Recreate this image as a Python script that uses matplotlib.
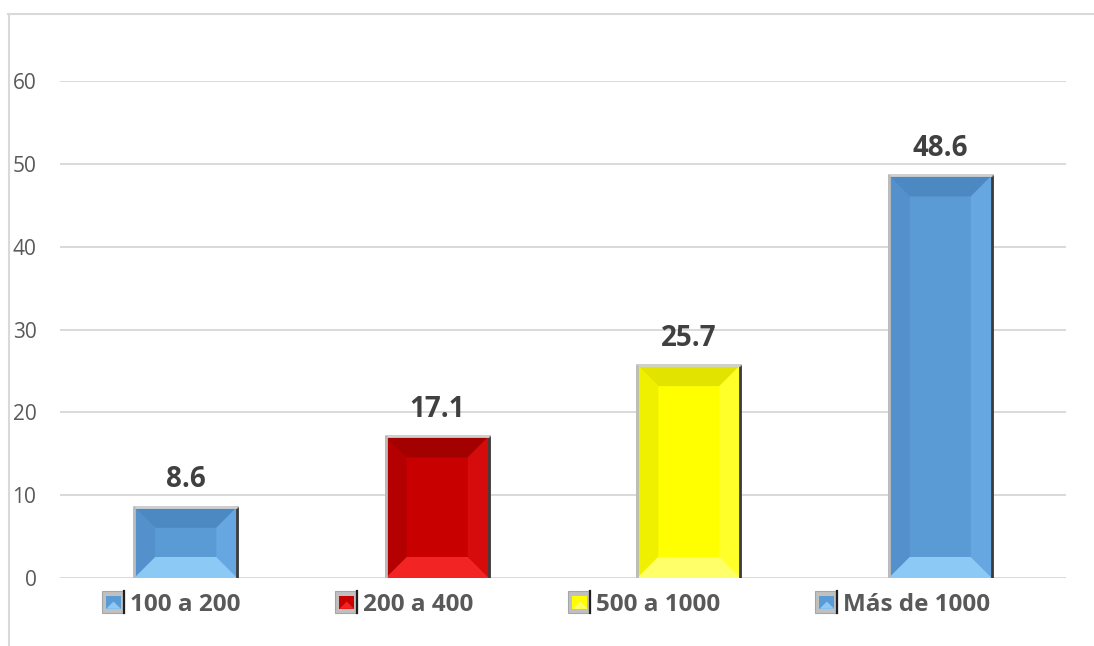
import matplotlib
matplotlib.use("Agg")
import matplotlib.pyplot as plt
from matplotlib.patches import Polygon, Rectangle
from matplotlib.legend_handler import HandlerBase
from matplotlib.lines import Line2D

# --- data -----------------------------------------------------------------
categories = ["100 a 200", "200 a 400", "500 a 1000", "Más de 1000"]
values = [8.6, 17.1, 25.7, 48.6]
y_ticks = [0, 10, 20, 30, 40, 50, 60]

# bevel palettes: (face, top, left, right, bottom)
palettes = [
    ("#5B9BD5", "#4C88C2", "#5390CC", "#66A7E1", "#8CCAF5"),
    ("#C80000", "#A30000", "#B40000", "#D60C0C", "#F22424"),
    ("#FFFF00", "#E3E300", "#EFEF00", "#FFFF2A", "#FFFF6A"),
    ("#5B9BD5", "#4C88C2", "#5390CC", "#66A7E1", "#8CCAF5"),
]

FONT = "Open Sans"
W, H = 1094, 646
fig = plt.figure(figsize=(W / 100, H / 100), dpi=100)
fig.patch.set_facecolor("white")

# chart-area frame (top and left edges visible)
fig.add_artist(Line2D([8 / W, 1.0], [1 - 14 / H, 1 - 14 / H], color="#d9d9d9", lw=1.5))
fig.add_artist(Line2D([9 / W, 9 / W], [1 - 14 / H, 0.0], color="#d9d9d9", lw=1.5))

ax_l, ax_r, ax_t, ax_b = 60, 1066, 81, 578
ax = fig.add_axes([ax_l / W, 1 - ax_b / H, (ax_r - ax_l) / W, (ax_b - ax_t) / H])
ax.set_xlim(-0.5, len(categories) - 0.5)
ax.set_ylim(0, 60)
ax.set_yticks(y_ticks)
ax.set_yticklabels([str(t) for t in y_ticks], fontsize=15, color="#595959", family=FONT)
ax.tick_params(axis="y", length=0, pad=17)
ax.set_xticks([])
for s in ax.spines.values():
    s.set_visible(False)
ax.grid(axis="y", color="#d9d9d9", lw=1.4)
ax.set_axisbelow(True)

# pixel scale for the bevel
px_x = (ax_r - ax_l) / (len(categories))
px_y = (ax_b - ax_t) / 60.0
bev_px = 21
bw = 0.41

bars = ax.bar(range(len(categories)), values, width=bw, color=[p[0] for p in palettes],
              edgecolor="#c4c4c4", linewidth=2.0, zorder=2)

for bar, pal in zip(bars, palettes):
    x0, w, h = bar.get_x(), bar.get_width(), bar.get_height()
    x1 = x0 + w
    dx = bev_px / px_x
    dy = min(bev_px / px_y, h / 2.2)
    face, top, left, right, bottom = pal
    polys = [
        ([(x0, h), (x1, h), (x1 - dx, h - dy), (x0 + dx, h - dy)], top),
        ([(x0, 0), (x0, h), (x0 + dx, h - dy), (x0 + dx, dy)], left),
        ([(x1, 0), (x1, h), (x1 - dx, h - dy), (x1 - dx, dy)], right),
        ([(x0, 0), (x1, 0), (x1 - dx, dy), (x0 + dx, dy)], bottom),
    ]
    for pts, c in polys:
        ax.add_patch(Polygon(pts, closed=True, facecolor=c, edgecolor="none", zorder=3))
    # darker right edge and light top rim
    ax.plot([x1, x1], [0, h], color="#3c3c3c", lw=2.0, zorder=4, solid_capstyle="butt")
    ax.plot([x0, x1], [h, h], color="#d0d0d0", lw=2.0, zorder=4, solid_capstyle="butt")
    ax.plot([x0, x0], [0, h], color="#bcbcbc", lw=2.0, zorder=4, solid_capstyle="butt")
    ax.annotate(f"{h:.1f}", (x0 + w / 2, h), xytext=(0, 9), textcoords="offset points",
                ha="center", va="bottom", fontsize=20, fontweight="bold",
                color="#404040", family=FONT)


class BevelHandler(HandlerBase):
    def __init__(self, pal):
        super().__init__()
        self.pal = pal

    def create_artists(self, legend, orig_handle, xdescent, ydescent, width, height,
                       fontsize, trans):
        s = min(width, height)
        x0, y0 = -xdescent, -ydescent + (height - s) / 2
        face, top, left, right, bottom = self.pal
        arts = [Rectangle((x0, y0), s, s, facecolor="#c0c0c0", edgecolor="#a6a6a6",
                          lw=0.8, transform=trans)]
        m = s * 0.2
        ix0, iy0, ix1, iy1 = x0 + m, y0 + m, x0 + s - m * 0.6, y0 + s - m
        arts.append(Rectangle((ix0, iy0), ix1 - ix0, iy1 - iy0, facecolor=face,
                              edgecolor="none", transform=trans))
        cx = (ix0 + ix1) / 2
        arts.append(Polygon([(ix0, iy0), (ix1, iy0), (cx, iy0 + (iy1 - iy0) * 0.55)],
                            closed=True, facecolor=bottom, edgecolor="none", transform=trans))
        arts.append(Line2D([x0 + s, x0 + s], [y0, y0 + s], color="#202020", lw=1.6,
                           transform=trans))
        return arts


handles = [Rectangle((0, 0), 1, 1) for _ in categories]
leg = fig.legend(handles, categories, loc="center", bbox_to_anchor=(546 / W, 1 - 604 / H),
                 ncol=4, frameon=False, handlelength=1.0, handleheight=1.0,
                 handletextpad=0.15, columnspacing=3.9,
                 prop={"family": FONT, "weight": "bold", "size": 17.5},
                 handler_map={h: BevelHandler(p) for h, p in zip(handles, palettes)})
for t in leg.get_texts():
    t.set_color("#595959")

fig.savefig("out.png", dpi=100)
